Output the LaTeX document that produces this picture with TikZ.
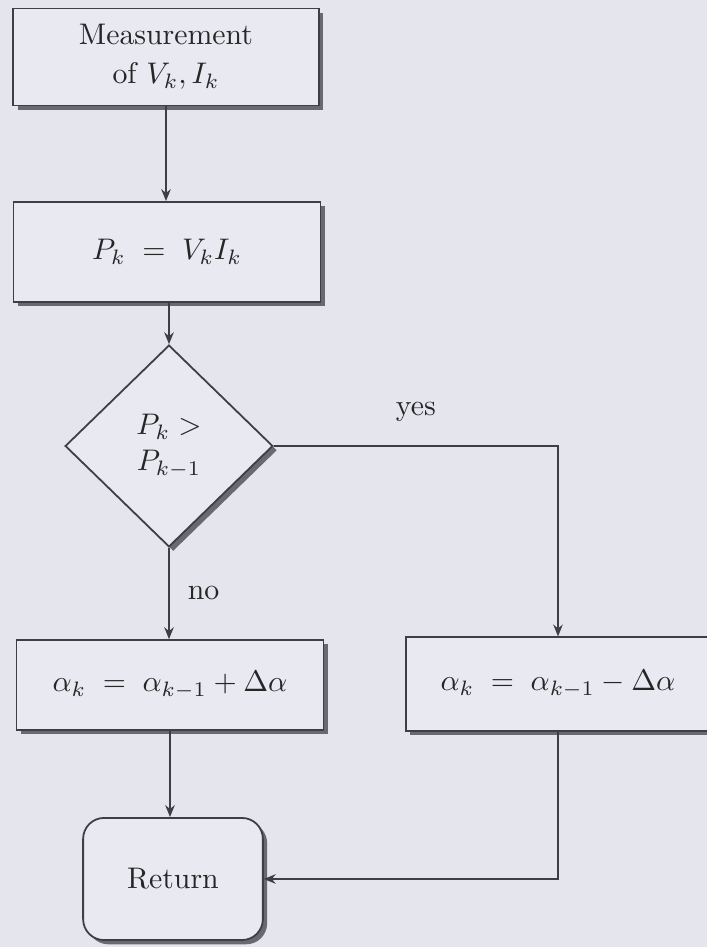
\documentclass[tikz,border=0pt]{standalone}
\usepackage{amsmath,amssymb}
\usetikzlibrary{positioning,calc,shapes.geometric,shadows,arrows.meta}
\definecolor{paper}{RGB}{229,229,238}
\definecolor{boxfill}{RGB}{233,233,241}
\definecolor{ink}{RGB}{62,62,70}
\definecolor{shade}{RGB}{92,92,102}

\begin{document}
\begin{tikzpicture}[x=0.0118cm,y=0.0118cm]
\tikzset{
  block/.style={draw=ink, fill=boxfill, line width=0.6pt, inner sep=2pt, align=center, text=black!85,
    drop shadow={shadow xshift=0.5mm, shadow yshift=-0.5mm, fill=shade, opacity=0.9}},
  decision/.style={block, diamond, aspect=1, inner sep=0pt, minimum width=2.45cm, minimum height=2.38cm},
  ending/.style={block, rounded corners=7pt},
  flow/.style={draw=ink, line width=0.6pt, -{Stealth[length=4pt,width=3.2pt]}},
  lbl/.style={text=black!85, inner sep=2pt}
}
\useasboundingbox (0,0) rectangle (707,-947);
\fill[paper] (0,0) rectangle (707,-947);

\node[block, minimum width=3.60cm, minimum height=1.145cm] (meas) at (166,-57)
  {Measurement\\[1pt] of $V_k, I_k$};
\node[block, minimum width=3.62cm, minimum height=1.18cm] (pow) at (167,-252)
  {$P_k \;=\; V_kI_k$};
\node[decision] (cmp) at (169,-446) {$P_k >$\\ $P_{k-1}$};
\node[block, minimum width=3.62cm, minimum height=1.06cm] (incr) at (170,-685)
  {$\alpha_k \;=\; \alpha_{k-1} + \Delta\alpha$};
\node[block, minimum width=3.59cm, minimum height=1.10cm] (decr) at (558,-684)
  {$\alpha_k \;=\; \alpha_{k-1} - \Delta\alpha$};
\node[ending, minimum width=2.12cm, minimum height=1.44cm] (ret) at (173,-879) {Return};

\draw[flow] (meas.south) -- (meas.south |- pow.north);
\draw[flow] (cmp.north |- pow.south) -- (cmp.north);
\draw[flow] (cmp.south) -- node[lbl, right=4pt] {no} (cmp.south |- incr.north);
\draw[flow] (cmp.east) -| node[lbl, pos=0.25, above=6pt] {yes} (decr.north);
\draw[flow] (incr.south) -- (incr.south |- ret.north);
\draw[flow] (decr.south) |- (ret.east);
\end{tikzpicture}
\end{document}
